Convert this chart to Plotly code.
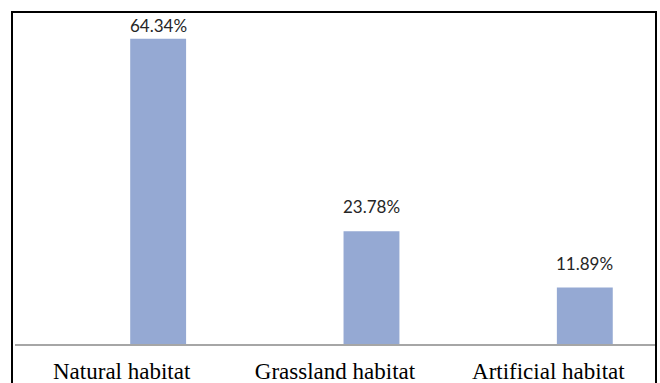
import plotly.graph_objects as go

categories = ["Natural habitat", "Grassland habitat", "Artificial habitat"]
values = [64.34, 23.78, 11.89]
labels = ["64.34%", "23.78%", "11.89%"]
label_shift = [1, 12, 12]

W, H = 660, 383
ML, MR, MT, MB = 15, 5, 12, 39
pw = W - ML - MR
ph = H - MT - MB

def px_x(p):
    return (p - ML) / pw

def px_y(p):
    return (H - MB - p) / ph

fig = go.Figure()
fig.add_trace(go.Bar(
    x=categories, y=values,
    marker=dict(color="#95a9d3", line=dict(width=0)),
    width=0.262, offset=0.04,
    hoverinfo="skip",
))

for c, v, t, s in zip(categories, values, labels, label_shift):
    fig.add_annotation(
        x=c, y=v, text=t, showarrow=False, xshift=0.171 * pw / 3,
        yanchor="bottom", yshift=s,
        font=dict(family="Lato", size=17, color="#262626"),
    )

# outer frame
fig.add_shape(type="rect", xref="paper", yref="paper",
              x0=px_x(12), x1=px_x(656), y0=px_y(420), y1=px_y(12),
              line=dict(color="black", width=2), layer="above")

fig.update_layout(
    width=W, height=H,
    margin=dict(l=ML, r=MR, t=MT, b=MB, pad=0, autoexpand=False),
    paper_bgcolor="white", plot_bgcolor="white",
    showlegend=False,
    xaxis=dict(
        type="category", range=[-0.5, 2.5], automargin=False,
        showline=True, linecolor="#a6a6a6", linewidth=1.5,
        ticks="", showgrid=False, zeroline=False,
        tickfont=dict(family="Liberation Serif", size=23, color="black"),
        ticklabelstandoff=6,
    ),
    yaxis=dict(range=[0, 70], visible=False, showgrid=False, zeroline=False,
               automargin=False),
)

fig.write_html("out.html")
